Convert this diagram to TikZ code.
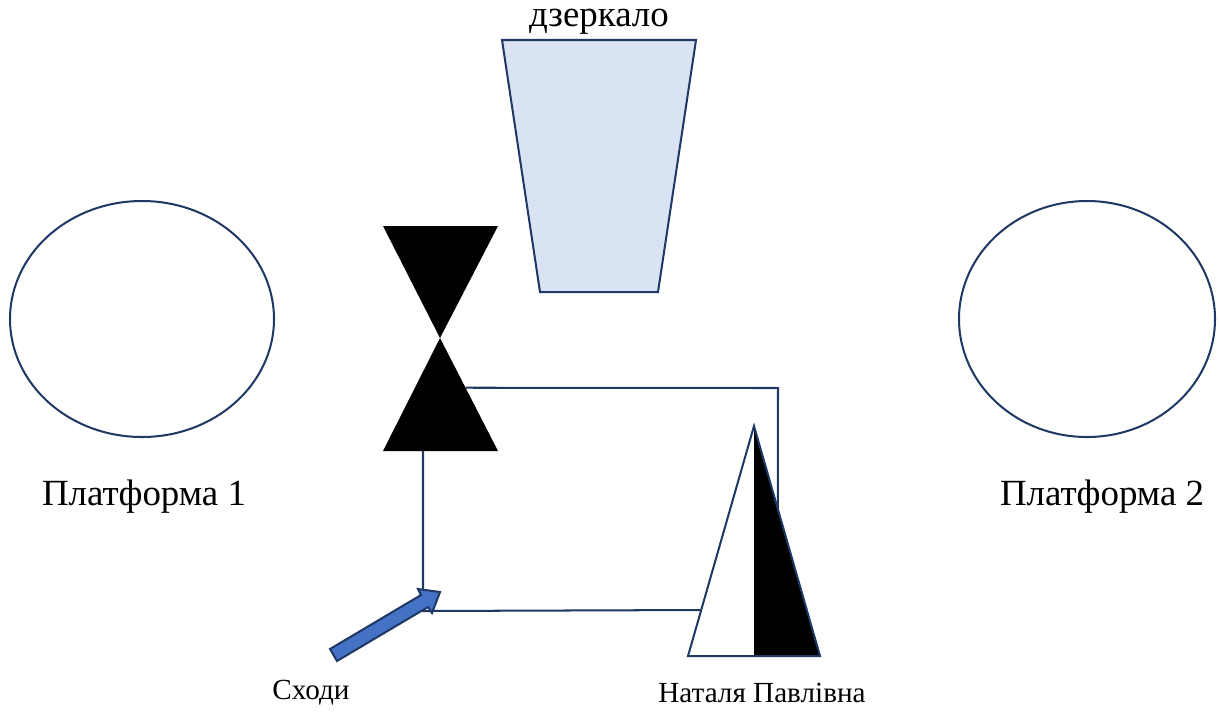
\documentclass[tikz,border=0pt]{standalone}
\usepackage{fontspec}
\setmainfont{Liberation Serif}
\usetikzlibrary{calc}
\definecolor{navy}{HTML}{203864}
\definecolor{mirrorfill}{HTML}{DAE3F3}
\definecolor{arrowblue}{HTML}{4472C4}
\tikzset{
    outline/.style={draw=navy, line width=1.15pt},
    biglabel/.style={font=\fontsize{21}{25}\selectfont},
    smalllabel/.style={font=\fontsize{16.6}{19}\selectfont}
}
\begin{document}
\begin{tikzpicture}[x=0.02cm, y=-0.02cm]
        \useasboundingbox (0,0) rectangle (1219,711);

        % Platformy
        \foreach \x/\rx/\val in {
            142/132/1,
            1087/128/2
            } {
            \draw[outline] (\x, 319) ellipse [x radius=\rx, y radius=118];
        }
        \node[biglabel] (plat1) at (144, 497) {Платформа 1};
        \node[biglabel] (plat2) at (1102, 497) {Платформа 2};

        % Dzerkalo
        \draw[outline, fill=mirrorfill] (502, 40) -- (696, 40) -- (658, 292) -- (540, 292) -- cycle;
        \node[biglabel, inner sep=0pt] (mirror) at (599, 22) {дзеркало};

        % Pisochnyi hodynnyk
        \coordinate (gtl) at (383, 226);
        \coordinate (gtr) at (498, 226);
        \coordinate (gmid) at (440, 338);
        \coordinate (gbl) at (383, 451);
        \coordinate (gbr) at (498, 451);

        % Nataliia Pavlivna
        \coordinate (ttop) at (754, 426);
        \coordinate (tbl) at (688, 656);
        \coordinate (tbm) at (754, 656);
        \coordinate (tbr) at (820, 656);

        % Liniyi
        \draw[outline] ($(gmid)!0.44!(gbr)$) -- (778, 388) -- ($(ttop)!0.36!(tbr)$);
        \draw[outline] (423, 451) -- (423, 611) -- ($(ttop)!0.8!(tbl)$);

        \fill[black] (gtl) -- (gtr) -- (gmid) -- cycle;
        \fill[black] (gmid) -- (gbr) -- (gbl) -- cycle;

        \fill[black] (ttop) -- (tbm) -- (tbr) -- cycle;
        \draw[outline, line join=miter] (ttop) -- (tbr) -- (tbl) -- cycle;

        % Skhody
        \draw[outline, fill=arrowblue, line join=miter]
            (337, 661) -- (330, 649) -- (421, 595) -- (418, 589) -- (440, 592)
            -- (432, 613) -- (428, 607) -- cycle;
        \node[smalllabel] (stairs) at (311, 693) {Сходи};
        \node[smalllabel] (teacher) at (762, 693) {Наталя Павлівна};
    \end{tikzpicture}
\end{document}
